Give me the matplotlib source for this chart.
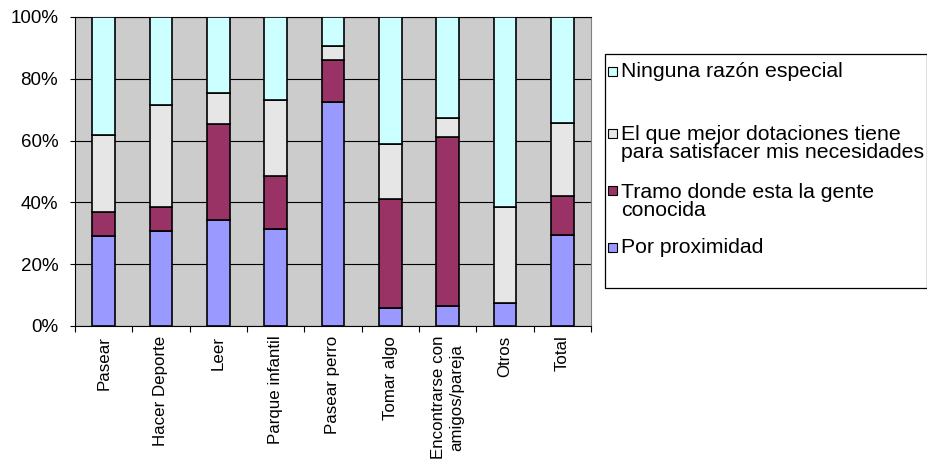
import matplotlib
matplotlib.use("Agg")
import matplotlib.pyplot as plt
from matplotlib.patches import Rectangle
import numpy as np

plt.rcParams['font.family'] = ['Liberation Sans', 'DejaVu Sans']

categories = ["Pasear", "Hacer Deporte", "Leer", "Parque infantil", "Pasear perro",
              "Tomar algo", "Encontrarse con\namigos/pareja", "Otros", "Total"]
series_names = ["Por proximidad", "Tramo donde esta la gente\nconocida",
                "El que mejor dotaciones tiene\npara satisfacer mis necesidades",
                "Ninguna razón especial"]
por_proximidad = [29.2, 30.8, 34.4, 31.4, 72.4, 5.9, 6.6, 7.5, 29.3]
tramo_gente = [7.7, 7.7, 30.9, 17.2, 13.6, 35.2, 54.7, 0.0, 12.7]
mejor_dotaciones = [24.8, 32.9, 10.2, 24.5, 4.7, 17.7, 6.0, 31.0, 23.8]
ninguna_razon = [38.3, 28.6, 24.5, 26.9, 9.3, 41.2, 32.7, 61.5, 34.2]
ytick_values = [0, 20, 40, 60, 80, 100]
ytick_labels = ["0%", "20%", "40%", "60%", "80%", "100%"]

colors = ["#9999FF", "#993366", "#E6E6E6", "#CCFFFF"]
series = [por_proximidad, tramo_gente, mejor_dotaciones, ninguna_razon]

W, H = 928, 463
fig = plt.figure(figsize=(W / 100, H / 100), dpi=100)
ax = fig.add_axes([75 / W, (H - 326) / H, (591 - 75) / W, (326 - 17) / H])
ax.set_facecolor("#CCCCCC")

x = np.arange(len(categories))
bottom = np.zeros(len(categories))
for vals, col in zip(series, colors):
    ax.bar(x, vals, width=0.39, bottom=bottom, color=col, edgecolor="black",
           linewidth=1.2, zorder=3)
    bottom += np.array(vals)

ax.set_xlim(-0.5, len(categories) - 0.5)
ax.set_ylim(0, 100)
ax.set_yticks(ytick_values)
ax.set_yticklabels(ytick_labels, fontsize=13.5)
ax.yaxis.grid(True, color="black", linewidth=0.8, zorder=1)
ax.set_axisbelow(True)
ax.tick_params(axis="y", direction="out", length=3.6, width=0.8, pad=8.5)

ax.set_xticks(x)
ax.set_xticklabels(categories, rotation=90, fontsize=12.2, va="top", ha="center",
                   multialignment="center")
ax.set_xticks(np.arange(len(categories) + 1) - 0.5, minor=True)
ax.tick_params(axis="x", which="major", length=0, pad=7)
ax.tick_params(axis="x", which="minor", direction="out", length=4.3, width=0.8)

for s in ["left", "bottom"]:
    ax.spines[s].set_color("black")
    ax.spines[s].set_linewidth(0.8)
ax.spines["right"].set_color("#808080")
ax.spines["right"].set_linewidth(0.8)
ax.spines["top"].set_color("black")
ax.spines["top"].set_linewidth(0.8)

# Legend drawn manually (framed box, entries in reverse order)
def fx(px):
    return px / W

def fy(py):
    return 1 - py / H

fig.patches.append(Rectangle((fx(605), fy(288)), fx(927) - fx(605), (288 - 54) / H,
                             transform=fig.transFigure, facecolor="white",
                             edgecolor="black", linewidth=0.9, zorder=0))
first_baselines = [76.7, 139.3, 196.0, 252.7]
last_baselines = [76.7, 158.0, 216.0, 252.7]
for name, col, b1, b2 in zip(series_names[::-1], colors[::-1], first_baselines,
                             last_baselines):
    fig.patches.append(Rectangle((fx(608), fy(b1 - 1)), 9 / W, 9 / H,
                                 transform=fig.transFigure, facecolor=col,
                                 edgecolor="black", linewidth=0.8, zorder=2))
    fig.text(fx(621), fy(b2), name, fontsize=15.3, va="baseline", ha="left",
             linespacing=0.95)

fig.savefig("out.png", dpi=100)
